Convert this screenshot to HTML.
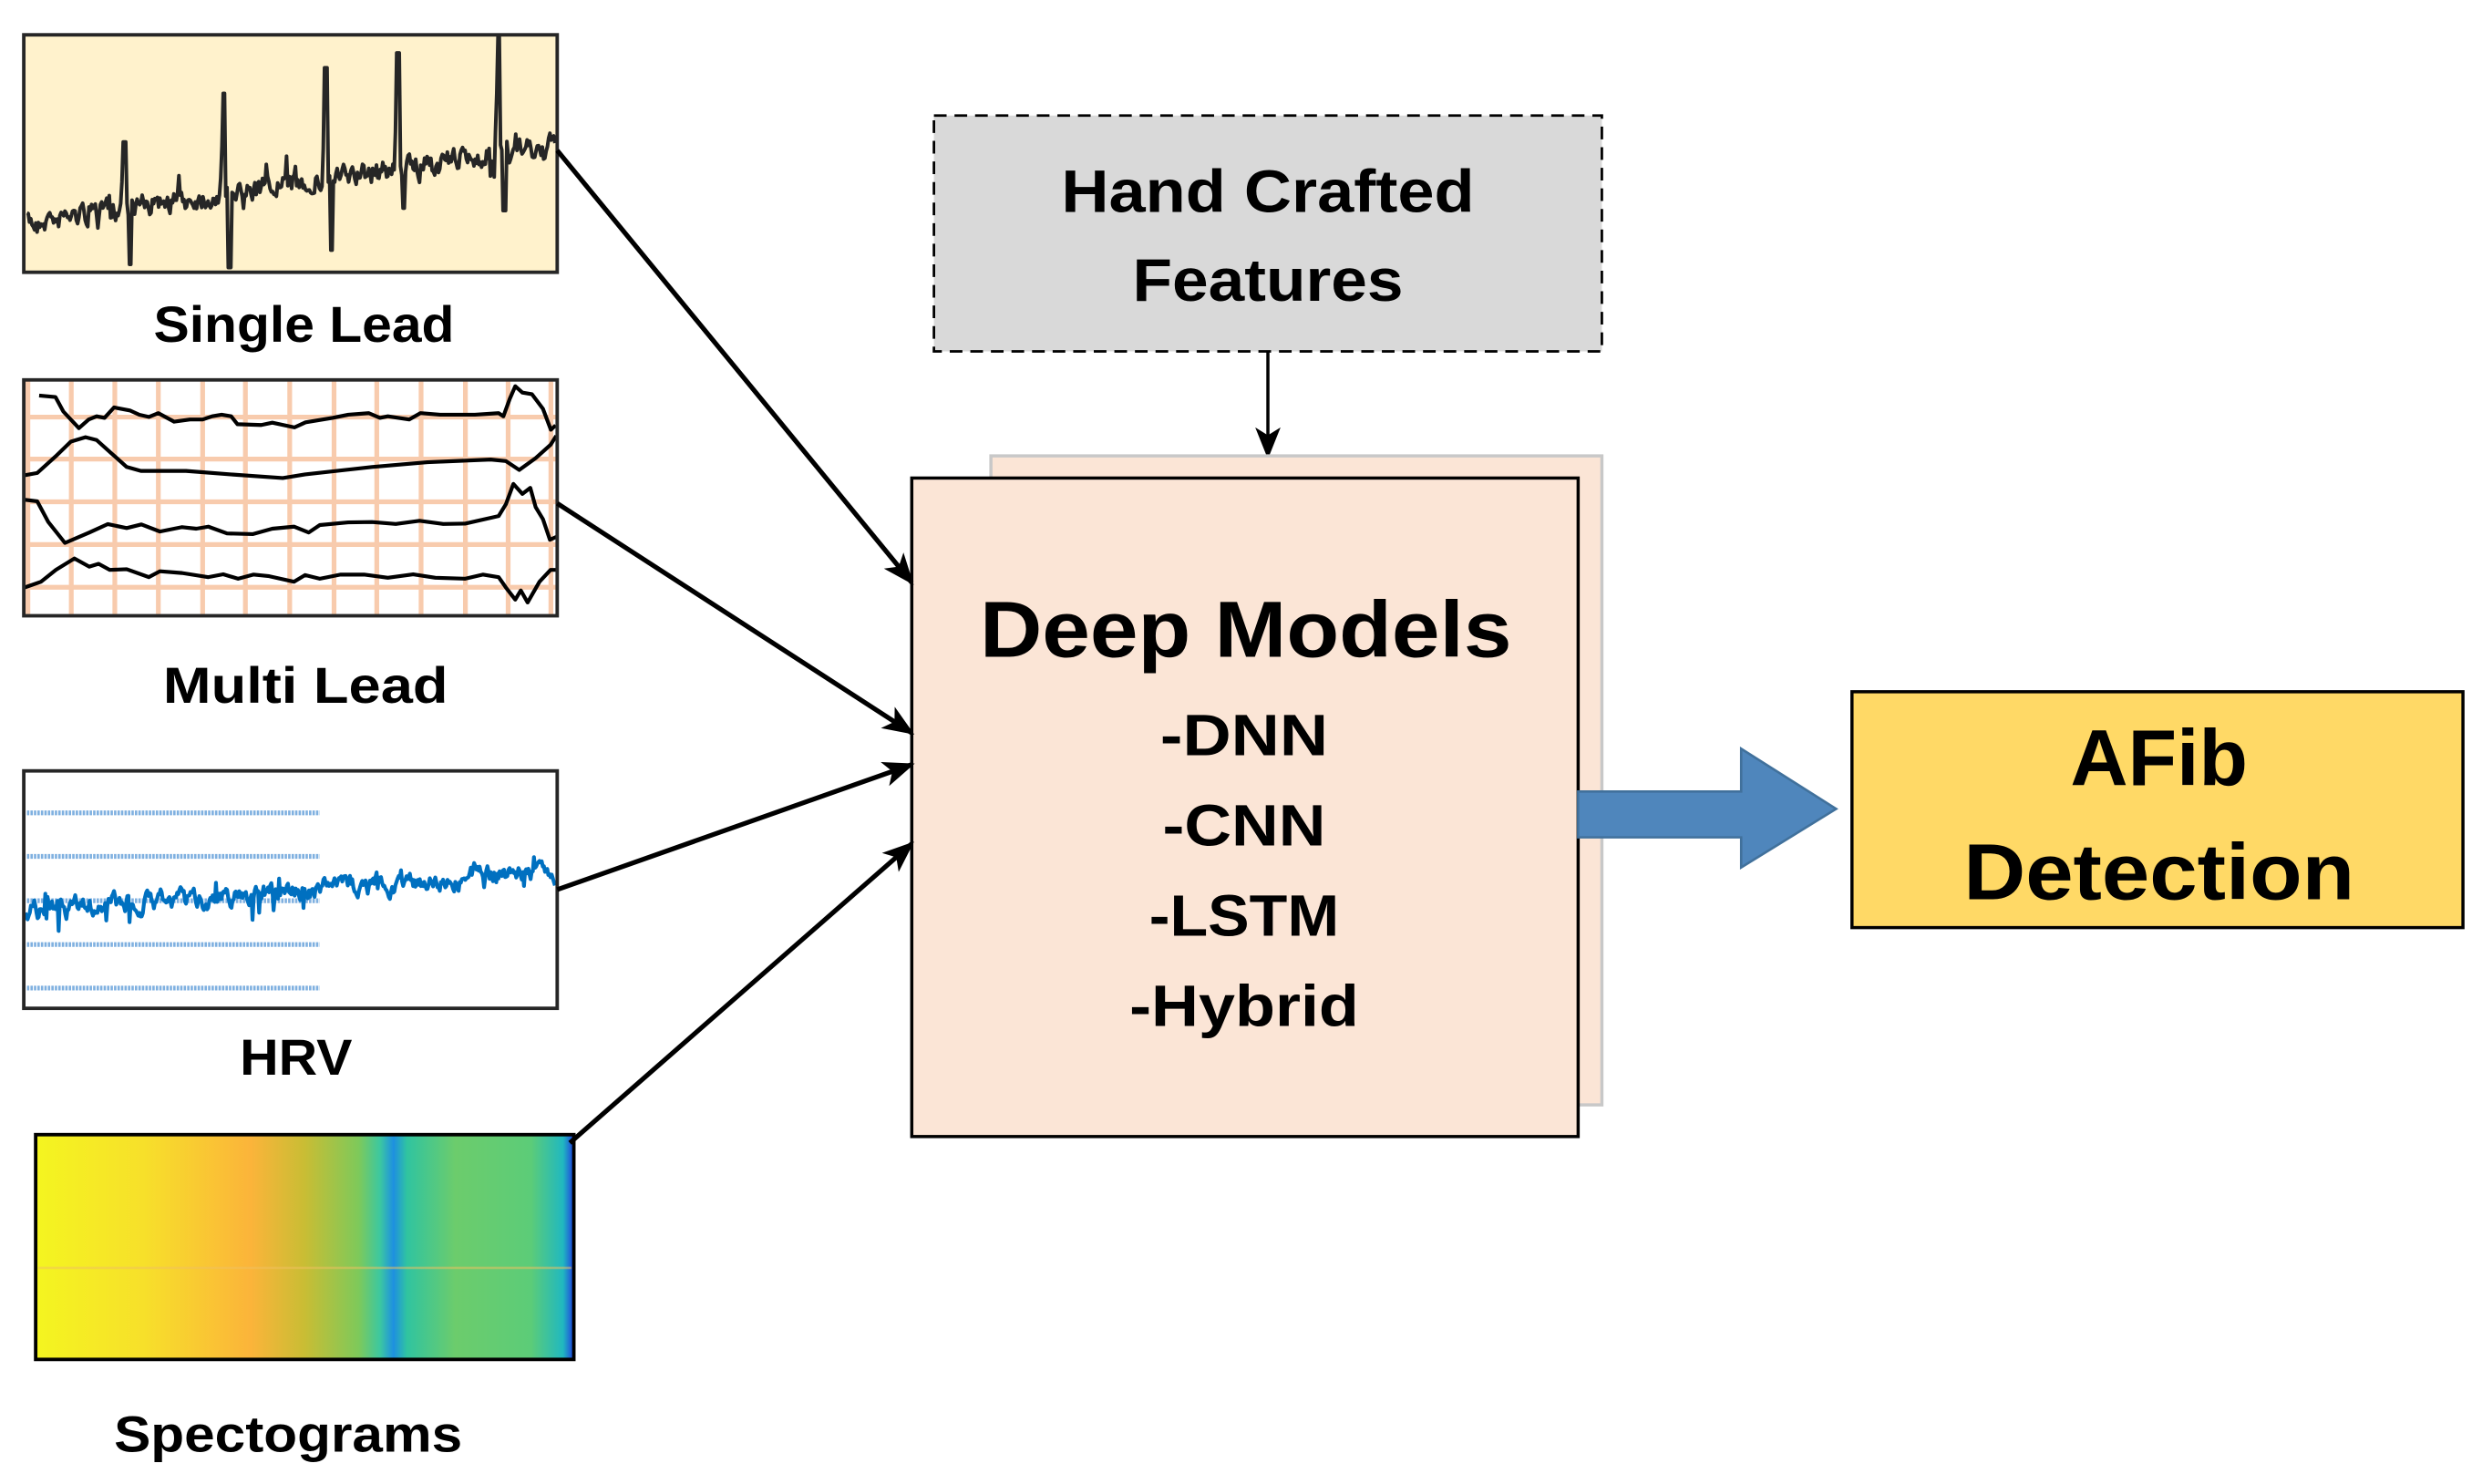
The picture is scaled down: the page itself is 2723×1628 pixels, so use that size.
<!DOCTYPE html>
<html><head><meta charset="utf-8"><style>
html,body{margin:0;padding:0;background:#fff;width:2723px;height:1628px;overflow:hidden}
svg{display:block}
text{font-family:"Liberation Sans",sans-serif;font-weight:bold;fill:#000}
</style></head><body>
<svg id="s" width="2723" height="1628" viewBox="0 0 1568 937.5" xmlns="http://www.w3.org/2000/svg">
<defs>
<marker id="ah2" markerWidth="20" markerHeight="20" refX="18" refY="10" orient="auto" markerUnits="userSpaceOnUse" viewBox="0 0 20 20"><path d="M0,2 L20,10 L0,18 L5,10 z" fill="#000"/></marker>
<linearGradient id="sp" x1="0" x2="1" y1="0" y2="0">
<stop offset="0" stop-color="#f4f520"/>
<stop offset="0.2" stop-color="#f7e02a"/>
<stop offset="0.4" stop-color="#fbb43a"/>
<stop offset="0.5" stop-color="#c9bd34"/>
<stop offset="0.6" stop-color="#7ec95a"/>
<stop offset="0.64" stop-color="#3cc8a0"/>
<stop offset="0.665" stop-color="#1e90e0"/>
<stop offset="0.69" stop-color="#30c4a0"/>
<stop offset="0.78" stop-color="#6ccc6c"/>
<stop offset="0.92" stop-color="#5ccc78"/>
<stop offset="0.98" stop-color="#20b8c0"/>
<stop offset="1" stop-color="#2040e0"/>
</linearGradient>
</defs>

<!-- Single lead -->
<rect x="15" y="22" width="337" height="150" fill="#fff2cc" stroke="#262626" stroke-width="2.2"/>
<polyline id="sl" fill="none" stroke="#262626" stroke-width="2.3" stroke-linejoin="round"/>
<text x="192" y="216" font-size="32" text-anchor="middle" textLength="190" lengthAdjust="spacingAndGlyphs">Single Lead</text>

<!-- Multi lead -->
<rect x="15" y="240" width="337" height="149" fill="#fff"/>
<g stroke="#f8cbad" stroke-width="3">
<line x1="17.6" y1="241" x2="17.6" y2="388"/><line x1="45" y1="241" x2="45" y2="388"/><line x1="72.5" y1="241" x2="72.5" y2="388"/><line x1="100" y1="241" x2="100" y2="388"/><line x1="128" y1="241" x2="128" y2="388"/><line x1="155" y1="241" x2="155" y2="388"/><line x1="183" y1="241" x2="183" y2="388"/><line x1="211" y1="241" x2="211" y2="388"/><line x1="238" y1="241" x2="238" y2="388"/><line x1="266" y1="241" x2="266" y2="388"/><line x1="294" y1="241" x2="294" y2="388"/><line x1="321" y1="241" x2="321" y2="388"/><line x1="348" y1="241" x2="348" y2="388"/>
<line x1="16" y1="263.5" x2="351" y2="263.5"/><line x1="16" y1="290" x2="351" y2="290"/><line x1="16" y1="317" x2="351" y2="317"/><line x1="16" y1="344" x2="351" y2="344"/><line x1="16" y1="371" x2="351" y2="371"/>
</g>
<g fill="none" stroke="#000" stroke-width="2.4" stroke-linejoin="round">
<polyline points="24.7,249.9 35,250.8 40,260 49.8,270.5 56,265 61,263 66,264 72,257.4 82,259.3 88,262 94,263.4 100,261 110,266.4 120,265 128,265 134,263 140,262 146,263 150,268 165,268.5 172,267 186,270 193,266.8 210,264 220,262 233,261 240,264 245,263 258.5,265 265.6,261 278,262 290,262 300,262 315,261 318,263 322,252 325.5,244 330,248 336,249 343,258.3 348,271.5 351,268.7"/>
<polyline points="15.3,300.3 23.5,298.8 35,288.4 44.7,279 54,276.2 61,278 70.5,286.5 80,295 89,297.5 117.5,297.5 145.7,299.7 178.6,302 192.7,299.7 235,295 270,292 310,290.3 319.6,291.3 328,296.9 338.4,289.4 347.8,281 351.4,275.3"/>
<polyline points="15.3,315.7 23.5,316.7 30.5,329.8 41,343 56.4,336.4 68,331.1 80,333.6 89.3,331.3 101,335.8 115,333 124,334 131.6,332.7 143.4,337 159.8,337.4 172,334 185.7,332.7 195,336.4 202,331.7 220,330 235,329.8 250,331 265,329 280,331 293.8,330.8 315,326 319.6,318.5 324.3,305.7 330,312 335,308.2 338.4,320.4 343,328 347.4,341 351.4,339.2"/>
<polyline points="15.3,371.2 25.9,367.5 35.3,360 47,352.8 56.4,358 62.3,356.2 69.3,360 80,359.6 94,364.6 101,360.9 115,362 131.6,364.6 141,362.8 150.4,365.6 160,363 170,364 185.7,367.5 192.7,363.3 202,365.6 215,363 230,363 245,365 261,362.8 275,365 293.8,365.6 305,363 315,364.6 319.6,371.2 325.5,378.8 329,373 333.3,380.6 340.8,367.5 347.8,360 351.4,360"/>
</g>
<rect x="15" y="240" width="337" height="149" fill="none" stroke="#262626" stroke-width="2.2"/>
<text x="193" y="444" font-size="32" text-anchor="middle" textLength="180" lengthAdjust="spacingAndGlyphs">Multi Lead</text>

<!-- HRV -->
<rect x="15" y="487" width="337" height="150" fill="#fff"/>
<g stroke="#7fb0e0" stroke-width="3" stroke-dasharray="1.5 0.7">
<line x1="17" y1="513.5" x2="202" y2="513.5"/><line x1="17" y1="541" x2="202" y2="541"/><line x1="17" y1="569" x2="202" y2="569"/><line x1="17" y1="596.7" x2="202" y2="596.7"/><line x1="17" y1="624.2" x2="202" y2="624.2"/>
</g>
<polyline id="hrv" fill="none" stroke="#0070c0" stroke-width="2.4" stroke-linejoin="round"/>
<rect x="15" y="487" width="337" height="150" fill="none" stroke="#262626" stroke-width="2.2"/>
<text x="187" y="679" font-size="32" text-anchor="middle" textLength="71" lengthAdjust="spacingAndGlyphs">HRV</text>

<!-- Spectrogram -->
<rect x="22.5" y="716.8" width="340" height="142" fill="url(#sp)" stroke="#000" stroke-width="2.2"/>
<line x1="24" y1="801" x2="361" y2="801" stroke="#f0c060" stroke-opacity="0.5" stroke-width="1.5"/>
<text x="182" y="917" font-size="32" text-anchor="middle" textLength="220" lengthAdjust="spacingAndGlyphs">Spectograms</text>

<!-- Hand crafted -->
<rect x="590" y="73" width="422" height="149" fill="#d9d9d9" stroke="#000" stroke-width="1.6" stroke-dasharray="8 5"/>
<text x="801" y="134" font-size="38" text-anchor="middle" textLength="261" lengthAdjust="spacingAndGlyphs">Hand Crafted</text>
<text x="801" y="190" font-size="38" text-anchor="middle" textLength="171" lengthAdjust="spacingAndGlyphs">Features</text>
<line x1="801" y1="222" x2="801" y2="288" stroke="#000" stroke-width="2" marker-end="url(#ah2)"/>

<!-- Deep models -->
<rect x="626" y="288" width="386" height="410" fill="#fbe5d6" stroke="#c8c8c8" stroke-width="2"/>
<rect x="576" y="302" width="421" height="416" fill="#fbe5d6" stroke="#000" stroke-width="2"/>
<text x="787" y="415" font-size="50" text-anchor="middle" textLength="336" lengthAdjust="spacingAndGlyphs">Deep Models</text>
<text x="786" y="477" font-size="37" text-anchor="middle" textLength="106" lengthAdjust="spacingAndGlyphs">-DNN</text>
<text x="786" y="534" font-size="37" text-anchor="middle" textLength="103" lengthAdjust="spacingAndGlyphs">-CNN</text>
<text x="786" y="591" font-size="37" text-anchor="middle" textLength="120" lengthAdjust="spacingAndGlyphs">-LSTM</text>
<text x="786" y="648" font-size="37" text-anchor="middle" textLength="145" lengthAdjust="spacingAndGlyphs">-Hybrid</text>

<!-- input arrows -->
<g stroke="#000" stroke-width="3" fill="none" marker-end="url(#ah2)">
<line x1="352" y1="95" x2="576" y2="368"/>
<line x1="352" y1="318" x2="576" y2="463"/>
<line x1="352" y1="562" x2="576" y2="483"/>
<line x1="360" y1="722" x2="576" y2="533"/>
</g>

<!-- blue arrow -->
<path d="M997,500 L1100,500 L1100,473 L1160,511 L1100,548 L1100,529 L997,529 z" fill="#4f86bc" stroke="#41719c" stroke-width="1.5"/>

<!-- AFib -->
<rect x="1170" y="437" width="386" height="149" fill="#ffd966" stroke="#000" stroke-width="2"/>
<text x="1364" y="496" font-size="50" text-anchor="middle" textLength="112" lengthAdjust="spacingAndGlyphs">AFib</text>
<text x="1364" y="568" font-size="50" text-anchor="middle" textLength="247" lengthAdjust="spacingAndGlyphs">Detection</text>
</svg>
<script>
var seed=7;function r(){seed=(seed*16807)%2147483647;return seed/2147483647;}
var pts=[],spikes=[[78.5,89.7,167],[141.5,59,169],[206,42.8,158],[251.5,33.5,131.5],[315,23.3,133]],w=0;
for(var x=17;x<=351;x+=0.8){
 var base=140.5+(92.7-140.5)*(x-17)/334;
 w=w*0.5+(r()-0.5)*12;
 var y=base+w+(r()<0.06?(r()-0.5)*22:0);
 for(var i=0;i<spikes.length;i++){var s=spikes[i];
  if(Math.abs(x-s[0])<1){y=s[1];}
  else if(Math.abs(x-(s[0]+3.5))<1){y=s[2];}
  else if(x>s[0]-2.5&&x<s[0]){y=base+(s[1]-base)*(x-(s[0]-2.5))/2.5;}
 }
 pts.push(x.toFixed(1)+","+y.toFixed(1));
}
document.getElementById("sl").setAttribute("points",pts.join(" "));
var p2=[],v=0;
for(var x=16;x<=351;x+=0.7){
 var base=576+(549-576)*(x-16)/335;
 v=v*0.75+(r()-0.5)*9;
 var y=base+v+(r()<0.04?(r()-0.5)*34:0);
 p2.push(x.toFixed(1)+","+y.toFixed(1));
}
document.getElementById("hrv").setAttribute("points",p2.join(" "));
</script>
</body></html>
